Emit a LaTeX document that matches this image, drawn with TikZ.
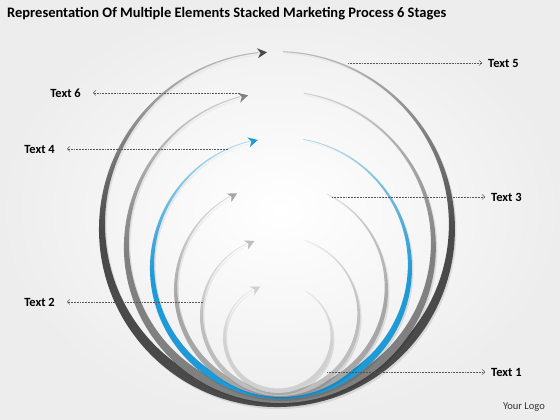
\documentclass[tikz,border=0pt]{standalone}
\usepackage{fontspec}
\setmainfont{Carlito}
\usetikzlibrary{arrows.meta,calc,fadings}
\definecolor{ringsix}{HTML}{4A4A4A}
\definecolor{ringfive}{HTML}{808080}
\definecolor{ringfour}{HTML}{1E9BD7}
\definecolor{ringthree}{HTML}{A6A6A6}
\definecolor{ringtwo}{HTML}{BDBDBD}
\definecolor{ringone}{HTML}{D0D0D0}
\definecolor{leadcol}{HTML}{555555}
\tikzfading[name=ringfade, top color=transparent!68, bottom color=transparent!0, middle color=transparent!0]
% #1 cx, #2 cy, #3 r, #4 inner offset a, #5 shift s, #6 start, #7 end, #8 options
\newcommand\ringshape[8]{%
  \fill[path fading=ringfade, #8] (#1,#2) ++(#6:#3) arc[start angle=#6, end angle=#7-360, radius=#3]
    -- ($(#1,#2+#5)+(#7:#3-#4)$) arc[start angle=#7-360, end angle=#6, radius=#3-#4] -- cycle;}
% #1 cx, #2 cy, #3 r, #4 width, #5 start, #6 end, #7 colour
\newcommand\stackring[7]{%
  \pgfmathsetmacro\ringa{0.55*#4}\pgfmathsetmacro\rings{0.45*#4}%
  \ringshape{#1}{#2}{#3}{\ringa}{\rings}{#5}{#6}{black,opacity=0.10,shift={(1.5,-2)}}
  \ringshape{#1}{#2}{#3}{\ringa}{\rings}{#5}{#6}{#7}
  \fill[#7, shift={($(#1,#2)+(#6:#3-1.2)$)}, rotate=#6-90] (8.5,0) -- (-1,5) -- (2,0) -- (-1,-5) -- cycle;}
\tikzset{
  leader/.style={draw=leadcol, densely dotted, line width=0.55pt, -{Straight Barb[length=2.5pt,width=5pt,line width=0.5pt]}},
  lbl/.style={font=\fontsize{12.5}{14}\selectfont\bfseries, text=black, inner ysep=0pt},
  lbll/.style={lbl, anchor=east, inner xsep=12pt},
  lblr/.style={lbl, anchor=west, inner xsep=6pt},
}
\begin{document}
\begin{tikzpicture}[x=1pt,y=1pt]
\shade[inner color=white, outer color=black!7] (0,0) rectangle (560,420);
\useasboundingbox (0,0) rectangle (560,420);
\node[anchor=base west, inner sep=0pt, font=\fontsize{14.5}{16}\selectfont\bfseries] (title) at (7,402)
  {Representation Of Multiple Elements Stacked Marketing Process 6 Stages};
% rings, outer first
\stackring{277}{191}{178}{11}{88}{96}{ringsix}
\stackring{280}{173}{156}{9}{81}{105}{ringfive}
\stackring{281}{152}{131}{7.5}{80}{104}{ringfour}
\stackring{281}{130}{107}{6}{64}{119}{ringthree}
\stackring{280}{104}{80}{5}{72}{115}{ringtwo}
\stackring{278}{82}{55}{4.5}{60}{118}{ringone}
% labels
\node[lblr] (t5) at (482,357) {Text 5};
\node[lbll] (t6) at (93,327) {Text 6};
\node[lbll] (t4) at (67,271) {Text 4};
\node[lblr] (t3) at (485,223) {Text 3};
\node[lbll] (t2) at (67,118) {Text 2};
\node[lblr] (t1) at (485,48) {Text 1};
\coordinate (c5) at (348,357);
\coordinate (c6) at (240,327);
\coordinate (c4) at (228,271);
\coordinate (c3) at (332,223);
\coordinate (c2) at (203,118);
\coordinate (c1) at (327,48);
\draw[leader] (c5) -- (t5.west);
\draw[leader] (c6) -- (t6.east);
\draw[leader] (c4) -- (t4.east);
\draw[leader] (c3) -- (t3.west);
\draw[leader] (c2) -- (t2.east);
\draw[leader] (c1) -- (t1.west);
\node[anchor=east, inner sep=0pt, font=\fontsize{10.5}{12}\selectfont, text=black!80] (logo) at (545,13) {Your Logo};
\end{tikzpicture}
\end{document}
